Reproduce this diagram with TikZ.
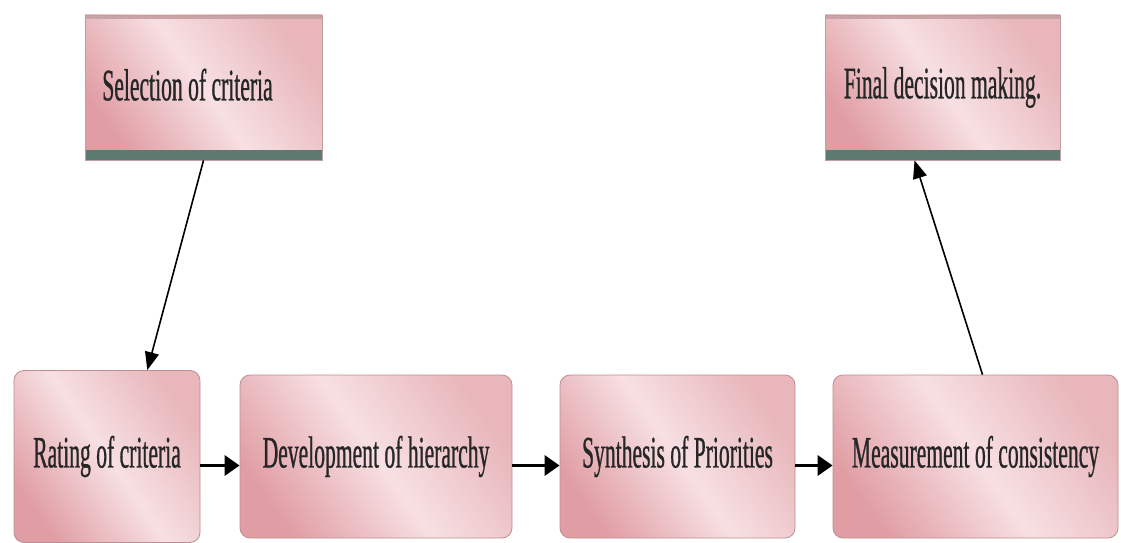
\documentclass[tikz,border=0pt]{standalone}
\usepackage{fontspec}
\setmainfont{Liberation Serif}[FakeStretch=0.48,FakeBold=0.6]
\usetikzlibrary{arrows.meta,calc}

\definecolor{rosaosc}{RGB}{224,158,164}
\definecolor{rosaclaro}{RGB}{247,224,227}
\definecolor{rosamed}{RGB}{232,178,182}
\definecolor{banda}{RGB}{92,122,112}

\tikzset{
  caja/.style={draw=rosamed!80!black, line width=0.8pt, shading=axis,
    left color=rosaosc, right color=rosaosc!75!white, middle color=rosaclaro,
    shading angle=125, inner sep=0pt, text=black!85,
    font=\fontsize{45}{48}\selectfont},
  cajasup/.style={caja, draw=rosamed!60!gray,
    path picture={
      \fill[banda] ($(path picture bounding box.south west)+(0,-10)$) rectangle (path picture bounding box.south east);
      \fill[rosamed!70!gray] (path picture bounding box.north west) rectangle ($(path picture bounding box.north east)+(0,4)$);
    }},
  cajainf/.style={caja, rounded corners=10pt},
  flecha/.style={line width=3.5pt, -{Triangle[length=15pt,width=20pt]}},
  flechadiag/.style={line width=1.6pt, -{Triangle[length=18pt,width=14pt]}}
}

\begin{document}
\begin{tikzpicture}[x=1pt,y=-1pt]
	\useasboundingbox (0,0) rectangle (1121,543);

	% Cajas superiores
	\node [cajasup, minimum width=237pt, minimum height=145pt] (sel) at (203.5,87.5) {\raisebox{6pt}{Selection of criteria\hspace*{32pt}}};
	\node [cajasup, minimum width=235pt, minimum height=145pt] (fin) at (942.5,87.5) {\raisebox{4pt}{Final decision making.}};

	% Cajas inferiores
	\node [cajainf, minimum width=186pt, minimum height=172pt] (rat) at (107,456.5) {Rating of criteria};
	\node [cajainf, minimum width=272pt, minimum height=163pt] (dev) at (376,456.5) {Development of hierarchy};
	\node [cajainf, minimum width=235pt, minimum height=163pt] (syn) at (677.5,456.5) {Synthesis of Priorities};
	\node [cajainf, minimum width=285pt, minimum height=163pt] (mea) at (975.5,456.5) {Measurement of consistency};

	% Flechas
	\draw [flechadiag] (sel.south) -- (rat.65);
	\draw [flecha] ([yshift=-9pt]rat.east) -- ([yshift=-9pt]dev.west);
	\draw [flecha] ([yshift=-9pt]dev.east) -- ([yshift=-9pt]syn.west);
	\draw [flecha] ([yshift=-9pt]syn.east) -- ([yshift=-9pt]mea.west);
	\draw [flechadiag] ([xshift=7pt]mea.north) -- (fin.249);
\end{tikzpicture}
\end{document}
